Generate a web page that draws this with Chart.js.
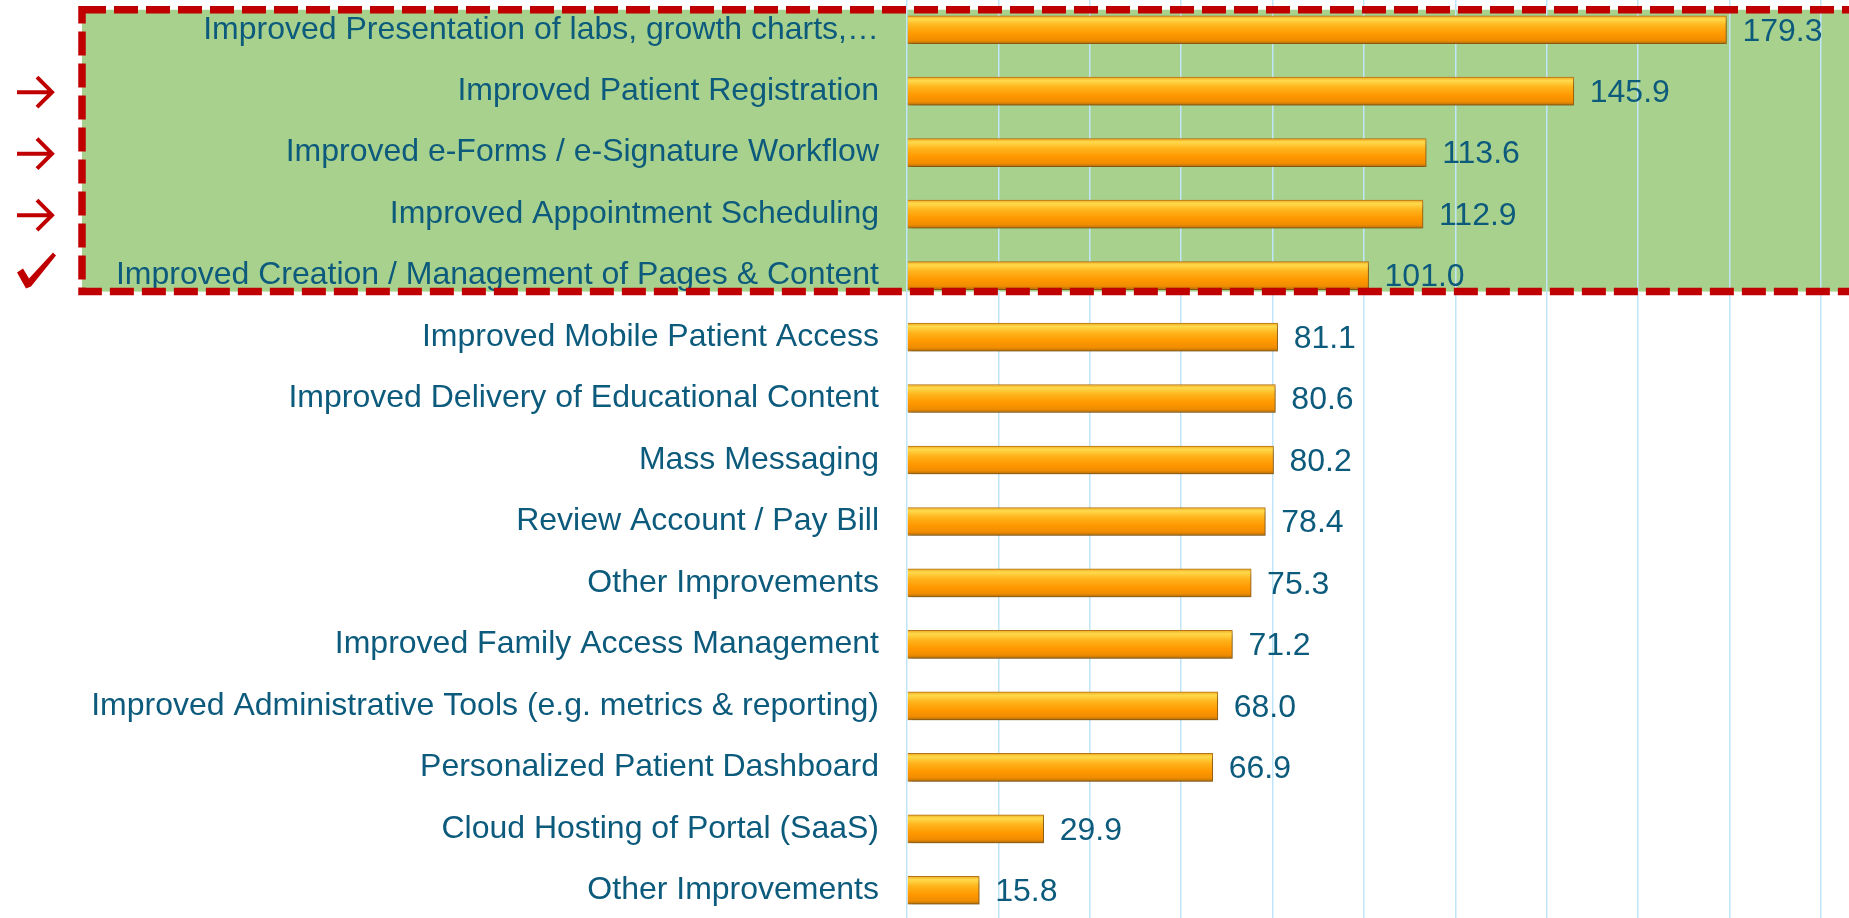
<!DOCTYPE html>
<html>
<head>
<meta charset="utf-8">
<title>Portal improvements</title>
<script src="https://cdn.jsdelivr.net/npm/chart.js@4.4.1/dist/chart.umd.min.js"></script>
<style>
    html, body { margin: 0; padding: 0; background: #fff; overflow: hidden; }
    #chart { position: absolute; left: 0; top: -1px; }
</style>
</head>
<body>
<canvas id="chart" width="1849" height="922"></canvas>
<script>
const categories = [
    'Improved Presentation of labs, growth charts,\u2026',
    'Improved Patient Registration',
    'Improved e-Forms / e-Signature Workflow',
    'Improved Appointment Scheduling',
    'Improved Creation / Management of Pages & Content',
    'Improved Mobile Patient Access',
    'Improved Delivery of Educational Content',
    'Mass Messaging',
    'Review Account / Pay Bill',
    'Other Improvements',
    'Improved Family Access Management',
    'Improved Administrative Tools (e.g. metrics & reporting)',
    'Personalized Patient Dashboard',
    'Cloud Hosting of Portal (SaaS)',
    'Other Improvements'
];
const scores = [179.3, 145.9, 113.6, 112.9, 101.0, 81.1, 80.6, 80.2, 78.4, 75.3, 71.2, 68.0, 66.9, 29.9, 15.8];
// which rows get a marker in the left margin
const arrowRows = [1, 2, 3];
const checkRows = [4];
const highlightRows = [0, 4];   // first and last row inside the green box

const textColor = '#0C5A7C';
const red = '#C00000';

// orange bevel gradient, built per bar from the y scale
function barFill(ctx) {
    const chart = ctx.chart;
    const y = chart.scales.y;
    if (!chart.chartArea || !y) return '#FF9A00';
    const c = y.getPixelForValue(ctx.dataIndex);
    const g = chart.ctx.createLinearGradient(0, c - 14, 0, c + 14);
    g.addColorStop(0, '#F0A820');
    g.addColorStop(0.12, '#FFDA4C');
    g.addColorStop(0.35, '#FFB41C');
    g.addColorStop(0.65, '#FF9800');
    g.addColorStop(0.88, '#F08C00');
    g.addColorStop(1, '#B0700E');
    return g;
}

function boxEdges(y) {
    return {
        top: y.getPixelForValue(highlightRows[0]) - 20,
        bottom: y.getPixelForValue(highlightRows[1]) + 16
    };
}

const boxPlugin = {
    id: 'box',
    beforeDraw(chart) {
        const { ctx, scales: { y } } = chart;
        const { top, bottom } = boxEdges(y);
        ctx.save();
        ctx.fillStyle = '#A9D18E';
        ctx.fillRect(82, top, chart.width, bottom - top);
        ctx.restore();
    },
    beforeDatasetsDraw(chart) {
        const ctx = chart.ctx;
        ctx.save();
        ctx.shadowColor = 'rgba(0,0,0,0.35)';
        ctx.shadowBlur = 5;
        ctx.shadowOffsetX = 2;
        ctx.shadowOffsetY = 3;
    },
    afterDatasetsDraw(chart) {
        const ctx = chart.ctx;
        ctx.restore();
        // value labels
        const meta = chart.getDatasetMeta(0);
        ctx.save();
        ctx.fillStyle = textColor;
        ctx.font = '32px "Liberation Sans", Arial, sans-serif';
        ctx.textAlign = 'left';
        ctx.textBaseline = 'middle';
        meta.data.forEach((bar, i) => {
            ctx.fillText(scores[i].toFixed(1), bar.x + 16, bar.y + 2);
        });
        ctx.restore();
    },
    afterDraw(chart) {
        const { ctx, scales: { y } } = chart;
        const { top, bottom } = boxEdges(y);

        // dashed red frame
        ctx.save();
        ctx.strokeStyle = red;
        ctx.lineWidth = 7.5;
        ctx.setLineDash([24, 8]);
        ctx.strokeRect(82, top, chart.width + 20, bottom - top);
        ctx.restore();

        // arrows
        ctx.save();
        ctx.strokeStyle = red;
        ctx.lineWidth = 4;
        arrowRows.forEach(i => {
            const cy = y.getPixelForValue(i) + 1;
            ctx.beginPath();
            ctx.moveTo(17, cy);
            ctx.lineTo(51, cy);
            ctx.moveTo(37, cy - 15);
            ctx.lineTo(52, cy);
            ctx.lineTo(37, cy + 15);
            ctx.stroke();
        });
        ctx.restore();

        // check mark (tick shape, offsets from row centre)
        ctx.save();
        ctx.fillStyle = red;
        checkRows.forEach(i => {
            const cy = y.getPixelForValue(i);
            ctx.beginPath();
            ctx.moveTo(17, cy - 3);
            ctx.lineTo(23, cy - 7);
            ctx.lineTo(29, cy + 3);
            ctx.lineTo(53, cy - 23);
            ctx.lineTo(56, cy - 20);
            ctx.lineTo(31, cy + 11);
            ctx.lineTo(26, cy + 13);
            ctx.closePath();
            ctx.fill();
        });
        ctx.restore();
    }
};

new Chart(document.getElementById('chart'), {
    type: 'bar',
    data: {
        labels: categories,
        datasets: [{
            data: scores,
            backgroundColor: barFill,
            borderColor: '#B87818',
            borderWidth: 1,
            barThickness: 28
        }]
    },
    options: {
        indexAxis: 'y',
        responsive: false,
        animation: false,
        layout: { padding: { left: 0, right: 28, top: 0, bottom: 0 } },
        plugins: {
            legend: { display: false },
            tooltip: { enabled: false }
        },
        scales: {
            x: {
                min: 0,
                max: 200,
                ticks: { display: false, stepSize: 20 },
                grid: { color: '#BFE6F8', lineWidth: 1.5, drawTicks: false },
                border: { display: false },
                afterFit: s => {
                    s.height = 0;
                    s.paddingLeft = 0;
                    s.paddingRight = 0;
                }
            },
            y: {
                grid: { display: false, drawTicks: false },
                border: { display: false },
                ticks: {
                    color: textColor,
                    padding: 28,
                    autoSkip: false,
                    font: { family: '"Liberation Sans", Arial, sans-serif', size: 32 }
                },
                afterFit: s => {
                    s.width = 907;
                    s.paddingTop = 0;
                    s.paddingBottom = 0;
                }
            }
        }
    },
    plugins: [boxPlugin]
});
</script>
</body>
</html>
